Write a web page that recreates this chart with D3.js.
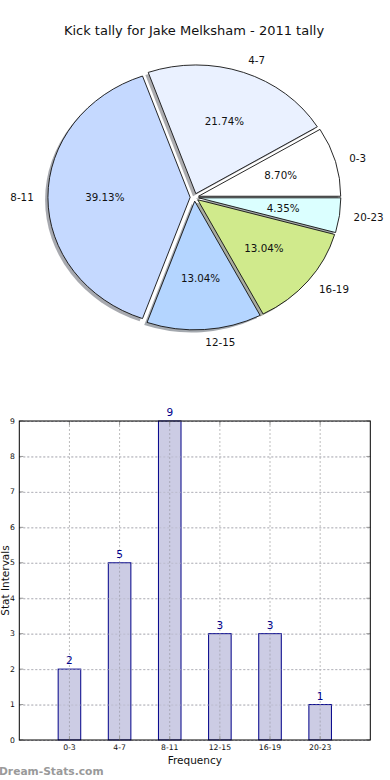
<!DOCTYPE html>
<html>
<head>
<meta charset="utf-8">
<script src="https://cdn.jsdelivr.net/npm/d3@7"></script>
<style>
  html, body { margin: 0; padding: 0; background: #fff; }
  svg { display: block; font-family: "DejaVu Sans", sans-serif; }
</style>
</head>
<body>
<svg id="chart" width="390" height="780"></svg>
<script>
// ---- data ----
const title = "Kick tally for Jake Melksham - 2011 tally";
const categories = ["0-3", "4-7", "8-11", "12-15", "16-19", "20-23"];
const counts = [2, 5, 9, 3, 3, 1];
const sliceColors = ["#ffffff", "#eaf1ff", "#c5d9ff", "#b4d5ff", "#d0ea8c", "#dbffff"];
const yTicks = [0, 1, 2, 3, 4, 5, 6, 7, 8, 9];
const xLabel = "Frequency";
const yLabel = "Stat Intervals";
const watermark = "Dream-Stats.com";

const svg = d3.select("#chart");

// ---- title ----
svg.append("text").attr("x", 194).attr("y", 34.5)
  .attr("text-anchor", "middle").attr("font-size", 13).attr("fill", "#111")
  .text(title);

// ---- pie (matplotlib-style, stretched ellipse) ----
const explode = 0.03, shadowOff = 0.02;
const px = d3.scaleLinear().domain([-1, 1]).range([194.4 - 142.2, 194.4 + 142.2]);
const py = d3.scaleLinear().domain([-1, 1]).range([197.3 + 128.7, 197.3 - 128.7]);
const rx = (px(1) - px(-1)) / 2, ry = (py(-1) - py(1)) / 2;
const total = d3.sum(counts);

// counter-clockwise from 3 o'clock
const arcs = d3.pie().sort(null).startAngle(Math.PI / 2).endAngle(Math.PI / 2 - 2 * Math.PI)(counts);
const wedges = arcs.map((a, i) => {
  const t1 = Math.PI / 2 - a.startAngle, t2 = Math.PI / 2 - a.endAngle;
  const tm = (t1 + t2) / 2;
  return { i, t1, t2, tm, ex: explode * Math.cos(tm), ey: explode * Math.sin(tm), v: a.value };
});
function wedgePath(w, dx, dy) {
  const ox = w.ex + dx, oy = w.ey + dy;
  const large = (w.t2 - w.t1) > Math.PI ? 1 : 0;
  return `M${px(ox)},${py(oy)}` +
    `L${px(ox + Math.cos(w.t1))},${py(oy + Math.sin(w.t1))}` +
    `A${rx},${ry} 0 ${large} 0 ${px(ox + Math.cos(w.t2))},${py(oy + Math.sin(w.t2))}Z`;
}
const pieG = svg.append("g");
// shadows
pieG.selectAll("path.shadow").data(wedges).join("path").attr("class", "shadow")
  .attr("d", w => wedgePath(w, -shadowOff, -shadowOff))
  .attr("fill", w => {
    const c = d3.rgb(sliceColors[w.i]);
    return d3.rgb(c.r * 0.3, c.g * 0.3, c.b * 0.3);
  })
  .attr("fill-opacity", 0.45).attr("stroke", "none");
// wedges
pieG.selectAll("path.wedge").data(wedges).join("path").attr("class", "wedge")
  .attr("d", w => wedgePath(w, 0, 0))
  .attr("fill", w => sliceColors[w.i])
  .attr("stroke", "#111").attr("stroke-width", 0.9).attr("stroke-linejoin", "miter");
// labels
pieG.selectAll("text.lab").data(wedges).join("text").attr("class", "lab")
  .attr("x", w => px(w.ex + 1.1 * Math.cos(w.tm)))
  .attr("y", w => py(w.ey + 1.1 * Math.sin(w.tm)))
  .attr("text-anchor", w => (w.ex + 1.1 * Math.cos(w.tm)) > 0 ? "start" : "end")
  .attr("dominant-baseline", "central")
  .attr("font-size", 10.3).attr("fill", "#111")
  .text(w => categories[w.i]);
pieG.selectAll("text.pct").data(wedges).join("text").attr("class", "pct")
  .attr("x", w => px(w.ex + 0.6 * Math.cos(w.tm)))
  .attr("y", w => py(w.ey + 0.6 * Math.sin(w.tm)))
  .attr("text-anchor", "middle").attr("dominant-baseline", "central")
  .attr("font-size", 10.3).attr("fill", "#111")
  .text(w => (w.v / total * 100).toFixed(2) + "%");

// ---- bar chart ----
const L = 19.3, R = 370.3, T = 421, B = 740;
const x = d3.scaleLinear().domain([-1, categories.length]).range([L, R]);
const y = d3.scaleLinear().domain([0, 9]).range([B, T]);
const barW = 0.45;
const g = svg.append("g");

// grid
const gridColor = "#bdbdbd";
g.selectAll("line.gx").data(categories).join("line").attr("class", "gx")
  .attr("x1", (d, i) => x(i)).attr("x2", (d, i) => x(i)).attr("y1", T).attr("y2", B)
  .attr("stroke", gridColor).attr("stroke-width", 1).attr("stroke-dasharray", "2,2");
g.selectAll("line.gy").data(yTicks).join("line").attr("class", "gy")
  .attr("x1", L).attr("x2", R).attr("y1", d => y(d) + 0.5).attr("y2", d => y(d) + 0.5)
  .attr("stroke", gridColor).attr("stroke-width", 1).attr("stroke-dasharray", "2,2");

// bars
g.selectAll("rect.bar").data(counts).join("rect").attr("class", "bar")
  .attr("x", (d, i) => x(i - barW / 2)).attr("width", x(barW) - x(0))
  .attr("y", d => y(d)).attr("height", d => B - y(d))
  .attr("fill", "#ccccE4").attr("stroke", "#000088").attr("stroke-width", 1);

// grid over bars
g.selectAll("line.gx2").data(categories).join("line").attr("class", "gx2")
  .attr("x1", (d, i) => x(i)).attr("x2", (d, i) => x(i))
  .attr("y1", (d, i) => y(counts[i])).attr("y2", B)
  .attr("stroke", "#a8a8b8").attr("stroke-width", 1).attr("stroke-dasharray", "2,2");
g.selectAll("line.gy2").data(yTicks).join("line").attr("class", "gy2")
  .attr("x1", L).attr("x2", R).attr("y1", d => y(d) + 0.5).attr("y2", d => y(d) + 0.5)
  .attr("stroke", "#b0b0c0").attr("stroke-width", 1).attr("stroke-dasharray", "2,2")
  .attr("stroke-opacity", 0.6);

// value labels
g.selectAll("text.val").data(counts).join("text").attr("class", "val")
  .attr("x", (d, i) => x(i)).attr("y", d => y(d) - 5)
  .attr("text-anchor", "middle").attr("font-size", 10.5).attr("fill", "#00008b")
  .text(d => d);

// ticks (inward)
const tickColor = "#999";
g.selectAll("line.tt").data(categories).join("line")
  .attr("x1", (d, i) => x(i)).attr("x2", (d, i) => x(i)).attr("y1", T).attr("y2", T + 4)
  .attr("stroke", tickColor);
g.selectAll("line.tb").data(categories).join("line")
  .attr("x1", (d, i) => x(i)).attr("x2", (d, i) => x(i)).attr("y1", B).attr("y2", B - 4)
  .attr("stroke", tickColor);
g.selectAll("line.tl").data(yTicks).join("line")
  .attr("x1", L).attr("x2", L + 4).attr("y1", d => y(d)).attr("y2", d => y(d))
  .attr("stroke", tickColor);
g.selectAll("line.tr").data(yTicks).join("line")
  .attr("x1", R).attr("x2", R - 4).attr("y1", d => y(d)).attr("y2", d => y(d))
  .attr("stroke", tickColor);

// frame
g.append("rect").attr("x", L).attr("y", T).attr("width", R - L).attr("height", B - T)
  .attr("fill", "none").attr("stroke", "#000").attr("stroke-width", 1);

// tick labels
g.selectAll("text.xt").data(categories).join("text").attr("class", "xt")
  .attr("x", (d, i) => x(i)).attr("y", 750)
  .attr("text-anchor", "middle").attr("font-size", 7.7).attr("fill", "#111")
  .text(d => d);
g.selectAll("text.yt").data(yTicks).join("text").attr("class", "yt")
  .attr("x", 15).attr("y", d => y(d)).attr("dominant-baseline", "central")
  .attr("text-anchor", "end").attr("font-size", 7.7).attr("fill", "#111")
  .text(d => d);

// axis labels
svg.append("text").attr("x", (L + R) / 2).attr("y", 764)
  .attr("text-anchor", "middle").attr("font-size", 10.5).attr("fill", "#111")
  .text(xLabel);
svg.append("text").attr("transform", `translate(8.5,${(T + B) / 2}) rotate(-90)`)
  .attr("text-anchor", "middle").attr("font-size", 10.5).attr("fill", "#111")
  .text(yLabel);

// watermark
svg.append("text").attr("x", -1).attr("y", 775)
  .attr("font-size", 10.7).attr("font-weight", "bold").attr("fill", "#9a9a9a")
  .text(watermark);
</script>
</body>
</html>
